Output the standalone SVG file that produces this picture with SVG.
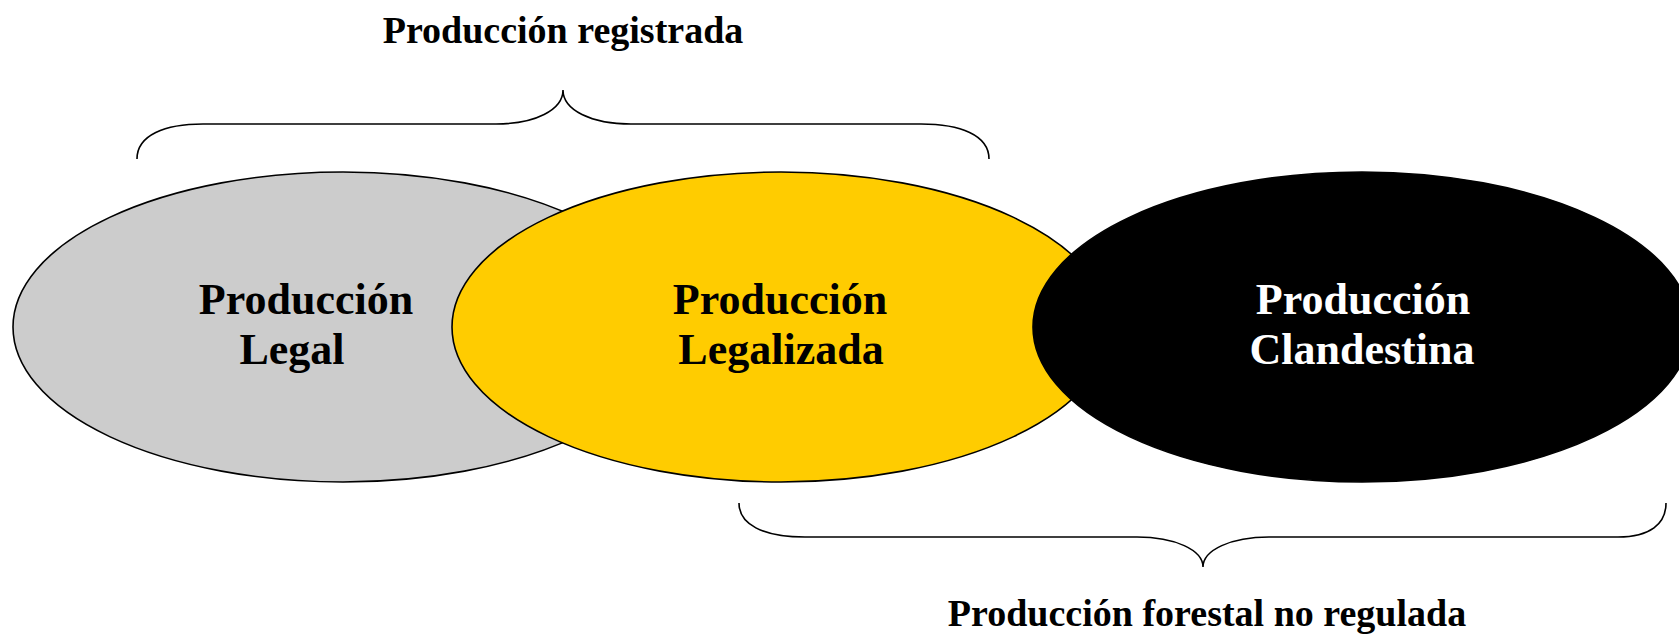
<svg xmlns="http://www.w3.org/2000/svg" width="1679" height="637" viewBox="0 0 1679 637">
<style>
text{font-family:"Liberation Serif","Times New Roman",serif;font-weight:bold;text-anchor:middle}
.lbl{font-size:44px}
.cap{font-size:38px;fill:#000}
.brace{fill:none;stroke:#000;stroke-width:1.6}
.ell{stroke:#000;stroke-width:1.6}
</style>
<rect width="1679" height="637" fill="#fff"/>
<g id="node-legal">
<ellipse class="ell" cx="343" cy="327" rx="330" ry="155" fill="#CCCCCC"/>
<text class="lbl" x="306" y="314">Producción</text>
<text class="lbl" x="292" y="364">Legal</text>
</g>
<g id="node-legalizada">
<ellipse class="ell" cx="781" cy="327" rx="329" ry="155" fill="#FFCC00"/>
<text class="lbl" x="780" y="314">Producción</text>
<text class="lbl" x="781" y="364">Legalizada</text>
</g>
<g id="node-clandestina">
<ellipse class="ell" cx="1362" cy="327" rx="329" ry="155" fill="#000"/>
<text class="lbl" x="1363" y="314" fill="#fff">Producción</text>
<text class="lbl" x="1362" y="364" fill="#fff">Clandestina</text>
</g>
<g id="connectors">
<path class="brace" d="M137,159 C137,135 165,124 203,124 L496,124 C535,124 563,110 563,90 C563,110 591,124 631,124 L921,124 C960,124 989,135 989,159"/>
<path class="brace" d="M739,503 C739,524 762,537 805,537 L1137,537 C1175,537 1203,550 1203,567 C1203,550 1231,537 1269,537 L1618,537 C1650,537 1666,524 1666,503"/>
</g>
<g id="label-registrada"><text class="cap" x="563" y="43">Producción registrada</text></g>
<g id="label-no-regulada"><text class="cap" x="1207" y="626">Producción forestal no regulada</text></g>
</svg>
